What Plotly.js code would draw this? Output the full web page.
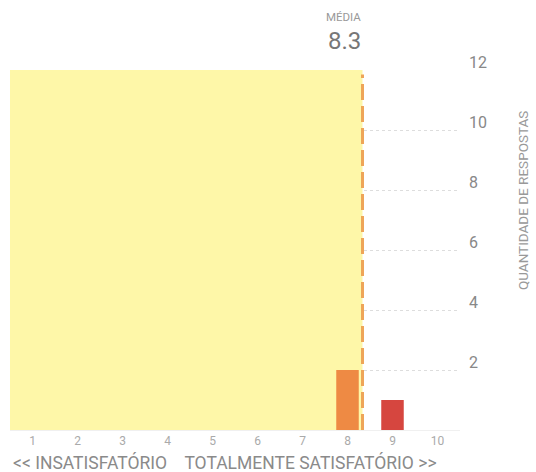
<!DOCTYPE html>
<html><head><meta charset="utf-8">
<script src="https://cdn.plot.ly/plotly-3.0.1.min.js"></script>
<style>html,body{margin:0;padding:0;background:#fff}#chart{width:536px;height:472px}</style>
</head><body><div id="chart"></div>
<script>
const scores = [1,2,3,4,5,6,7,8,9,10];
const counts = [0,0,0,0,0,0,0,2,1,0];
const barColors = ['#f6e36a','#f6d860','#f5c955','#f4b84e','#f3a848','#f29a45','#f09042','#ee8a44','#d6463f','#c23a3a'];
const yTicks = [2,4,6,8,10,12];
const meanLabel = 'MÉDIA';
const xTitle = '<< INSATISFATÓRIO\u00a0\u00a0\u00a0\u00a0TOTALMENTE SATISFATÓRIO >>';
const yTitle = 'QUANTIDADE DE RESPOSTAS';

const total = counts.reduce((a,b)=>a+b,0);
const mean = counts.reduce((a,c,i)=>a+c*scores[i],0)/total;

const trace = {
  type:'bar', x:scores, y:counts, width:0.5,
  marker:{color:barColors}, hoverinfo:'skip'
};
const layout = {
  width:536, height:472,
  margin:{l:10, r:76, t:70, b:42},
  paper_bgcolor:'#fff', plot_bgcolor:'#fff',
  showlegend:false,
  font:{family:'Roboto, "Noto Sans", sans-serif', color:'#888'},
  xaxis:{range:[0.5,10.5], tickvals:scores, ticktext:scores.map(String),
    tickfont:{size:12,color:'#aaa'}, showgrid:false, zeroline:false,
    showline:true, linecolor:'#f0f0f0', ticks:'', automargin:false},
  yaxis:{range:[0,12], side:'right', tickvals:yTicks, ticktext:yTicks.map(String),
    tickfont:{size:16,color:'#888'}, showgrid:true, gridcolor:'#dddddd', griddash:'dot',
    zeroline:false, ticks:'', ticklabelstandoff:8, ticklabelshift:-8, automargin:false},
  shapes:[
    {type:'rect', xref:'x', yref:'y', x0:0.5, x1:mean, y0:0, y1:12,
     fillcolor:'#fef7a8', line:{width:0}, layer:'between'},
    {type:'line', xref:'x', yref:'y', x0:mean, x1:mean, y0:0, y1:11.85,
     line:{color:'#eea558', width:3, dash:'16px,6px'}, layer:'above'}
  ],
  annotations:[
    {xref:'x', yref:'paper', x:mean, y:1, yshift:53, text:meanLabel, showarrow:false,
     font:{size:11.5,color:'#999'}, yanchor:'middle', xanchor:'right'},
    {xref:'x', yref:'paper', x:mean, y:1, yshift:29, text:mean.toFixed(1), showarrow:false,
     font:{size:24,color:'#777'}, yanchor:'middle', xanchor:'right'},
    {xref:'paper', yref:'paper', x:1, xshift:63, y:0.636, text:yTitle, textangle:-90, showarrow:false,
     font:{size:13.5,color:'#999'}, xanchor:'center', yanchor:'middle'},
    {xref:'paper', yref:'paper', x:0.5, xshift:-10, y:0, yshift:-32, text:xTitle, showarrow:false,
     font:{size:17.5,color:'#8a8a8a'}, xanchor:'center', yanchor:'middle'}
  ]
};
Plotly.newPlot('chart',[trace],layout,{displayModeBar:false,staticPlot:true});
</script></body></html>
